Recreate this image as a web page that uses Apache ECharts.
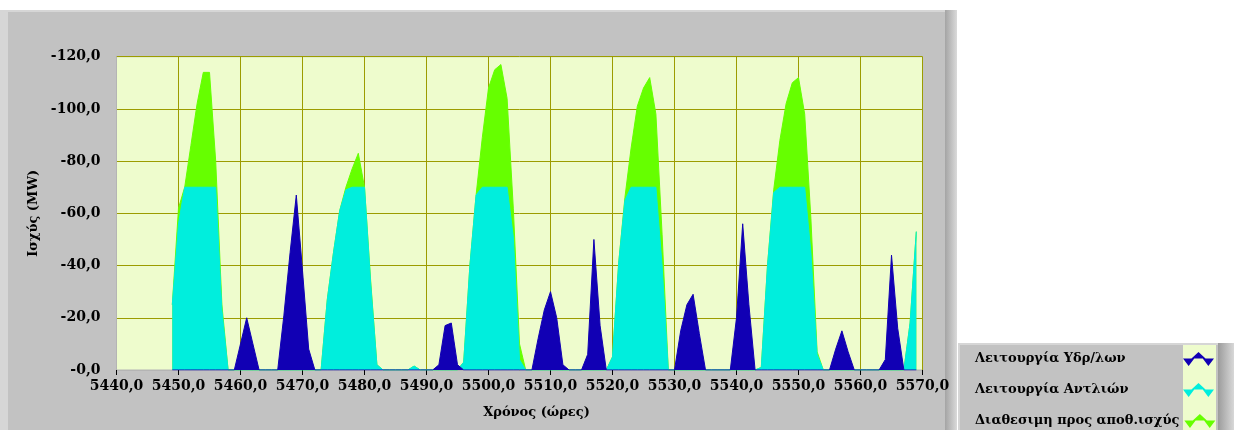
<!DOCTYPE html>
<html>
<head>
<meta charset="utf-8">
<script src="https://cdn.jsdelivr.net/npm/echarts@6/dist/echarts.min.js"></script>
<style>
  html, body { margin: 0; padding: 0; background: #fff; }
  #main { width: 1234px; height: 430px; }
</style>
</head>
<body>
<div id="main"></div>
<script>
// ώρες 5449 .. 5569
var hours = [
  5449, 5450, 5451, 5452, 5453, 5454, 5455, 5456, 5457, 5458,
  5459, 5460, 5461, 5462, 5463, 5464, 5465, 5466, 5467, 5468,
  5469, 5470, 5471, 5472, 5473, 5474, 5475, 5476, 5477, 5478,
  5479, 5480, 5481, 5482, 5483, 5484, 5485, 5486, 5487, 5488,
  5489, 5490, 5491, 5492, 5493, 5494, 5495, 5496, 5497, 5498,
  5499, 5500, 5501, 5502, 5503, 5504, 5505, 5506, 5507, 5508,
  5509, 5510, 5511, 5512, 5513, 5514, 5515, 5516, 5517, 5518,
  5519, 5520, 5521, 5522, 5523, 5524, 5525, 5526, 5527, 5528,
  5529, 5530, 5531, 5532, 5533, 5534, 5535, 5536, 5537, 5538,
  5539, 5540, 5541, 5542, 5543, 5544, 5545, 5546, 5547, 5548,
  5549, 5550, 5551, 5552, 5553, 5554, 5555, 5556, 5557, 5558,
  5559, 5560, 5561, 5562, 5563, 5564, 5565, 5566, 5567, 5568,
  5569
];

// Λειτουργία Υδρ/λων
var hydro = [
  0, 0, 0, 0, 0, 0, 0, 0, 0, 0,
  0, -10, -20, -10, 0, 0, 0, 0, -21, -45,
  -67, -38, -8, 0, 0, 0, 0, 0, 0, 0,
  0, 0, 0, 0, 0, 0, 0, 0, 0, 0,
  0, 0, 0, -2, -17, -18, -2, 0, 0, 0,
  0, 0, 0, 0, 0, 0, 0, 0, 0, -12,
  -23, -30, -20, -2, 0, 0, 0, -6, -50, -17,
  0, 0, 0, 0, 0, 0, 0, 0, 0, 0,
  0, 0, -15, -25, -29, -14, 0, 0, 0, 0,
  0, -20, -56, -25, 0, 0, 0, 0, 0, 0,
  0, 0, 0, 0, 0, 0, 0, -8, -15, -7,
  0, 0, 0, 0, 0, -4, -44, -16, 0, 0,
  0
];

// Λειτουργία Αντλιών
var pumps = [
  -25, -56, -70, -70, -70, -70, -70, -70, -23, 0,
  0, 0, 0, 0, 0, 0, 0, 0, 0, 0,
  0, 0, 0, 0, 0, -27, -45, -61, -69, -70,
  -70, -70, -33, -2, 0, 0, 0, 0, 0, -1.5,
  0, 0, 0, 0, 0, 0, 0, -3, -40, -67,
  -70, -70, -70, -70, -70, -51, -4, 0, 0, 0,
  0, 0, 0, 0, 0, 0, 0, 0, 0, 0,
  0, -5, -41, -65, -70, -70, -70, -70, -70, -40,
  0, 0, 0, 0, 0, 0, 0, 0, 0, 0,
  0, 0, 0, 0, 0, -1, -40, -68, -70, -70,
  -70, -70, -70, -45, -6, 0, 0, 0, 0, 0,
  0, 0, 0, 0, 0, 0, 0, 0, 0, -18,
  -53
];

// Διαθεσιμη προς αποθ.ισχύς
var available = [
  -25, -62, -70, -86, -102, -114, -114, -80, -25, 0,
  0, 0, 0, 0, 0, 0, 0, 0, 0, 0,
  0, 0, 0, 0, 0, -27, -45, -61, -70, -77,
  -83, -70, -34, -2, 0, 0, 0, 0, 0, -1.5,
  0, 0, 0, 0, 0, 0, 0, -3, -40, -67,
  -89, -108, -115, -117, -104, -62, -10, 0, 0, 0,
  0, 0, 0, 0, 0, 0, 0, 0, 0, 0,
  0, -5, -41, -66, -85, -101, -108, -112, -98, -52,
  0, 0, 0, 0, 0, 0, 0, 0, 0, 0,
  0, 0, 0, 0, 0, -1, -40, -69, -88, -102,
  -110, -112, -98, -58, -7, 0, 0, 0, 0, 0,
  0, 0, 0, 0, 0, 0, 0, 0, 0, -18,
  -53
];

var names = ['Λειτουργία Υδρ/λων', 'Λειτουργία Αντλιών', 'Διαθεσιμη προς αποθ.ισχύς'];
var colors = ['#1100b4', '#00eedd', '#66ff00'];

function pairs(vals) {
  return hours.map(function (h, i) { return [h, vals[i]]; });
}

var font = 'DejaVu Serif';
var icon = 'path://M9,7 L16.5,0 L24,7 Z M0,7 L12,7 L6,15 Z M21,7 L33,7 L27,15 Z';

// πλάτος κειμένου, για να μπουν τα εικονίδια του υπομνήματος στην ίδια στήλη
var measureCtx = document.createElement('canvas').getContext('2d');
measureCtx.font = 'bold 13px "' + font + '"';
function textW(s) { return measureCtx.measureText(s).width; }

function areaSeries(name, vals, color, z) {
  return {
    name: name,
    type: 'line',
    data: pairs(vals),
    symbol: 'none',
    z: z,
    color: color,
    lineStyle: { color: color, width: 1 },
    areaStyle: { color: color, opacity: 1 },
    animation: false
  };
}

function legendRow(name, top) {
  var padRight = Math.max(0, 203 - textW(name));
  return {
    data: [name],
    orient: 'vertical',
    left: 975,
    top: top,
    padding: 0,
    align: 'right',
    itemWidth: 31,
    itemHeight: 15,
    itemGap: 0,
    icon: icon,
    selectedMode: false,
    textStyle: { fontFamily: font, fontWeight: 'bold', fontSize: 13, color: '#000', padding: [0, padRight, 0, 0] }
  };
}

var chart = echarts.init(document.getElementById('main'), null, { renderer: 'canvas' });

var option = {
  backgroundColor: '#ffffff',
  animation: false,
  graphic: [
    // πλαίσιο γραφήματος
    { type: 'rect', z: -10, shape: { x: 0, y: 10, width: 957, height: 420 }, style: { fill: '#d6d6d6' } },
    { type: 'rect', z: -10, shape: { x: 8, y: 12, width: 937, height: 418 }, style: { fill: '#c2c2c2' } },
    { type: 'rect', z: -10, shape: { x: 945, y: 10, width: 12, height: 420 },
      style: { fill: new echarts.graphic.LinearGradient(0, 0, 1, 0, [
        { offset: 0, color: '#a4a4a4' }, { offset: 1, color: '#dadada' }]) } },
    // πλαίσιο υπομνήματος
    { type: 'rect', z: -10, shape: { x: 958, y: 343, width: 276, height: 87 }, style: { fill: '#d6d6d6' } },
    { type: 'rect', z: -10, shape: { x: 960, y: 345, width: 258, height: 85 }, style: { fill: '#c2c2c2' } },
    { type: 'rect', z: -10, shape: { x: 1218, y: 343, width: 16, height: 87 },
      style: { fill: new echarts.graphic.LinearGradient(0, 0, 1, 0, [
        { offset: 0, color: '#9c9c9c' }, { offset: 1, color: '#d8d8d8' }]) } },
    { type: 'rect', z: -9, shape: { x: 1183, y: 345, width: 33, height: 85 }, style: { fill: '#eefccd' } }
  ],
  legend: [
    legendRow(names[0], 352),
    legendRow(names[1], 383),
    legendRow(names[2], 414)
  ],
  grid: {
    left: 116.5,
    right: 311.5,
    top: 56.7,
    bottom: 60,
    show: true,
    backgroundColor: '#eefccd',
    borderColor: '#b4b4b4',
    borderWidth: 1
  },
  xAxis: {
    type: 'value',
    min: 5440,
    max: 5570,
    interval: 10,
    name: 'Χρόνος (ώρες)',
    nameLocation: 'middle',
    nameGap: 36,
    nameTextStyle: { fontFamily: font, fontWeight: 'bold', fontSize: 13, color: '#000', padding: [0, 0, 0, 34] },
    axisLine: { show: true, lineStyle: { color: '#b4b4b4' } },
    axisTick: { show: true, length: 5, lineStyle: { color: '#000' } },
    axisLabel: {
      margin: 9,
      fontFamily: font, fontWeight: 'bold', fontSize: 14, color: '#000',
      formatter: function (v) { return v + ',0'; }
    },
    splitLine: { show: true, lineStyle: { color: '#9c9c00', width: 1 } }
  },
  yAxis: {
    type: 'value',
    inverse: true,
    min: -120,
    max: 0,
    interval: 20,
    name: 'Ισχύς (MW)',
    nameLocation: 'middle',
    nameGap: 70,
    nameTextStyle: { fontFamily: font, fontWeight: 'bold', fontSize: 13, color: '#000' },
    axisLine: { show: true, lineStyle: { color: '#b4b4b4' } },
    axisTick: { show: false },
    axisLabel: {
      margin: 16,
      fontFamily: font, fontWeight: 'bold', fontSize: 14, color: '#000',
      formatter: function (v) { return (v === 0 ? '-0' : String(v)) + ',0'; }
    },
    splitLine: { show: true, lineStyle: { color: '#9c9c00', width: 1 } }
  },
  series: [
    areaSeries(names[2], available, colors[2], 2),
    areaSeries(names[1], pumps, colors[1], 3),
    areaSeries(names[0], hydro, colors[0], 4)
  ]
};

chart.setOption(option);
</script>
</body>
</html>
